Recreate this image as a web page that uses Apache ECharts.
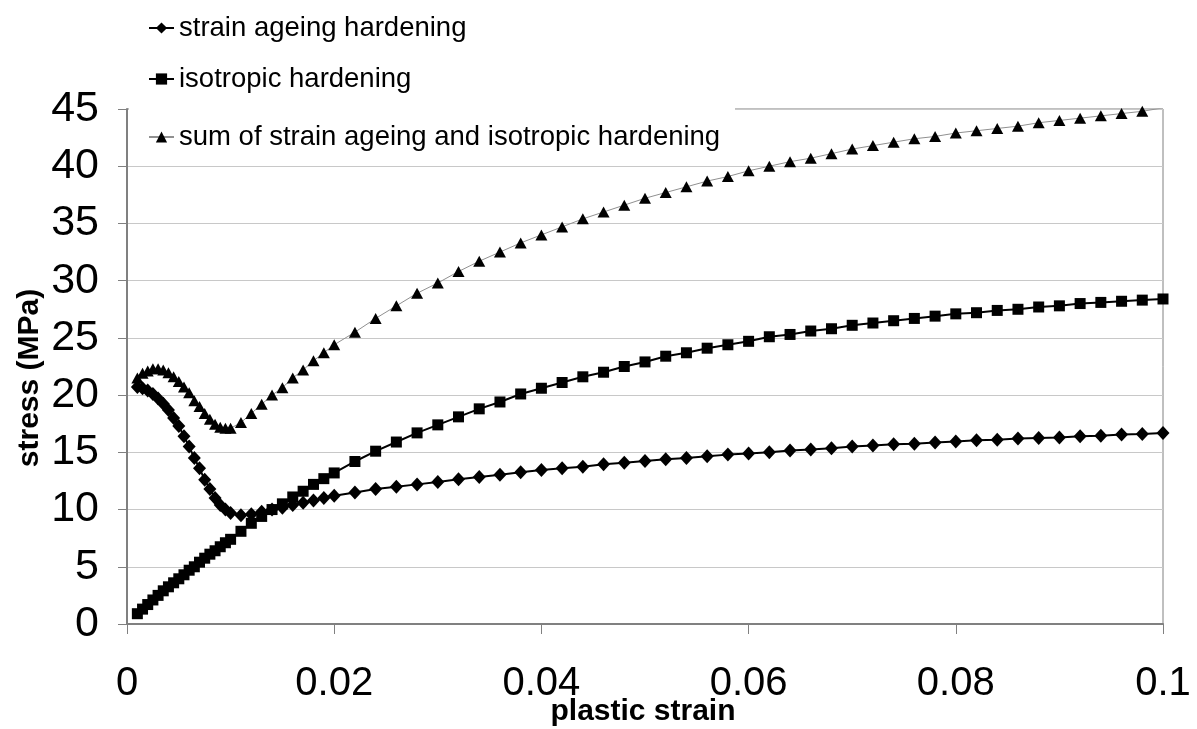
<!DOCTYPE html>
<html>
<head>
<meta charset="utf-8">
<script src="https://cdn.jsdelivr.net/npm/echarts@6/dist/echarts.min.js"></script>
<style>
html,body{margin:0;padding:0;background:#fff;}
#chart{width:1197px;height:729px;}
</style>
</head>
<body>
<div id="chart"></div>
<script>
// plastic strain values (x)
var strain = [
  0.001,0.0015,0.002,0.0025,0.003,0.0035,0.004,0.0045,0.005,0.0055,0.006,0.0065,0.007,0.0075,0.008,0.0085,0.009,0.0095,
  0.010,0.011,0.012,0.013,0.014,0.015,0.016,0.017,0.018,0.019,0.020,
  0.022,0.024,0.026,0.028,0.030,0.032,0.034,0.036,0.038,0.040,
  0.042,0.044,0.046,0.048,0.050,0.052,0.054,0.056,0.058,0.060,
  0.062,0.064,0.066,0.068,0.070,0.072,0.074,0.076,0.078,0.080,
  0.082,0.084,0.086,0.088,0.090,0.092,0.094,0.096,0.098,0.100
];
// strain ageing hardening (MPa)
var ageing = [
  20.7,20.6,20.4,20.1,19.7,19.25,18.7,18.0,17.3,16.4,15.5,14.5,13.6,12.6,11.8,11.0,10.4,10.0,
  9.7,9.5,9.6,9.8,10.0,10.15,10.4,10.6,10.8,11.0,11.2,
  11.5,11.8,12.0,12.2,12.4,12.65,12.85,13.05,13.25,13.45,
  13.6,13.75,13.95,14.1,14.25,14.4,14.5,14.65,14.8,14.9,
  15.0,15.15,15.25,15.35,15.5,15.6,15.7,15.75,15.85,15.95,
  16.05,16.1,16.2,16.25,16.3,16.4,16.45,16.55,16.6,16.7
];
// isotropic hardening (MPa)
var isotropic = [
  0.9,1.3,1.7,2.1,2.5,2.9,3.25,3.6,3.95,4.3,4.7,5.0,5.4,5.75,6.1,6.4,6.75,7.1,
  7.4,8.1,8.8,9.4,10.0,10.5,11.1,11.6,12.2,12.7,13.2,
  14.2,15.1,15.9,16.7,17.4,18.1,18.8,19.4,20.1,20.6,
  21.1,21.6,22.0,22.5,22.9,23.4,23.7,24.1,24.4,24.7,
  25.1,25.3,25.6,25.8,26.1,26.3,26.5,26.7,26.9,27.1,
  27.2,27.4,27.5,27.7,27.8,28.0,28.1,28.2,28.3,28.4
];
// sum of strain ageing and isotropic hardening (MPa)
var total = [
  21.5,21.9,22.1,22.3,22.3,22.2,21.95,21.6,21.2,20.7,20.2,19.5,19.0,18.4,17.9,17.45,17.2,17.1,
  17.1,17.6,18.4,19.2,20.0,20.65,21.5,22.2,23.0,23.7,24.4,
  25.5,26.7,27.8,28.9,29.8,30.8,31.7,32.5,33.3,34.0,
  34.7,35.4,36.0,36.6,37.2,37.7,38.2,38.7,39.1,39.6,
  40.0,40.4,40.7,41.1,41.5,41.8,42.1,42.4,42.6,42.9,
  43.1,43.3,43.5,43.8,44.0,44.2,44.4,44.6,44.8,45.1
];
var seriesNames = ['strain ageing hardening','isotropic hardening','sum of strain ageing and isotropic hardening'];
var xTicks = [0,0.02,0.04,0.06,0.08,0.1];
var yTicks = [0,5,10,15,20,25,30,35,40,45];
var xTitle = 'plastic strain';
var yTitle = 'stress (MPa)';

function pairs(ys){ return strain.map(function(x,i){ return [x, ys[i]]; }); }

var chart = echarts.init(document.getElementById('chart'));
var FONT = '"Liberation Sans", Arial, Helvetica, sans-serif';
var legendText = {fontFamily: FONT, fontSize: 27.5, color: '#000'};
function legendOf(name, top){
  return {data:[name], left: 148, top: top, orient:'vertical', itemWidth: 25, itemHeight: 14,
    itemGap: 6, textStyle: legendText, z: 10, padding: 0, selectedMode: false};
}
chart.setOption({
  animation: false,
  backgroundColor: '#fff',
  textStyle: {fontFamily: FONT},
  grid: {left: 127, right: 34, top: 109, bottom: 105, containLabel: false, outerBoundsMode: 'none',
    show: true, borderColor: '#808080', borderWidth: 1, backgroundColor: 'transparent'},
  graphic: [
    {type:'rect', z: 3, shape:{x:129, y:0, width:606, height:150}, style:{fill:'#fff'}},
    {type:'text', z: 10, x: 30, y: 378, rotation: Math.PI/2,
      style:{text: yTitle, fontFamily: FONT, fontSize: 30, fontWeight: 'bold', fill:'#000', align:'center', verticalAlign:'middle'}},
    {type:'text', z: 10, x: 643, y: 712,
      style:{text: xTitle, fontFamily: FONT, fontSize: 30, fontWeight: 'bold', fill:'#000', align:'center', verticalAlign:'middle'}}
  ],
  legend: [legendOf(seriesNames[0], 14), legendOf(seriesNames[1], 65), legendOf(seriesNames[2], 123)],
  xAxis: {
    type: 'value', min: 0, max: 0.1, interval: 0.02,
    axisLine: {show: true, onZero: false, lineStyle: {color: '#808080', width: 2}},
    axisTick: {show: true, length: 10, lineStyle: {color: '#808080'}},
    splitLine: {show: false},
    axisLabel: {fontFamily: FONT, fontSize: 40, color: '#000', margin: 40,
      formatter: function(v){ var i = xTicks.findIndex(function(t){return Math.abs(t-v)<1e-9;}); return i>=0 ? String(xTicks[i]) : ''; }}
  },
  yAxis: {
    type: 'value', min: 0, max: 45, interval: 5,
    axisLine: {show: true, lineStyle: {color: '#808080', width: 2}},
    axisTick: {show: true, length: 9, lineStyle: {color: '#808080'}},
    splitLine: {show: true, lineStyle: {color: '#c8c8c8', width: 1}},
    axisLabel: {fontFamily: FONT, fontSize: 43, color: '#000', margin: 28,
      formatter: function(v){ return yTicks.indexOf(v) >= 0 ? String(v) : ''; }}
  },
  series: [
    {name: seriesNames[0], type: 'line', data: pairs(ageing), symbol: 'diamond', symbolSize: [13,14],
      showAllSymbol: true, clip: true,
      lineStyle: {color: '#000', width: 2}, itemStyle: {color: '#000'}, z: 3},
    {name: seriesNames[1], type: 'line', data: pairs(isotropic), symbol: 'rect', symbolSize: 11,
      showAllSymbol: true, clip: true,
      lineStyle: {color: '#000', width: 2}, itemStyle: {color: '#000'}, z: 3},
    {name: seriesNames[2], type: 'line', data: pairs(total), symbol: 'triangle', symbolSize: [12,11],
      showAllSymbol: true, clip: true,
      lineStyle: {color: '#909090', width: 1}, itemStyle: {color: '#000'}, z: 2}
  ]
});
</script>
</body>
</html>
